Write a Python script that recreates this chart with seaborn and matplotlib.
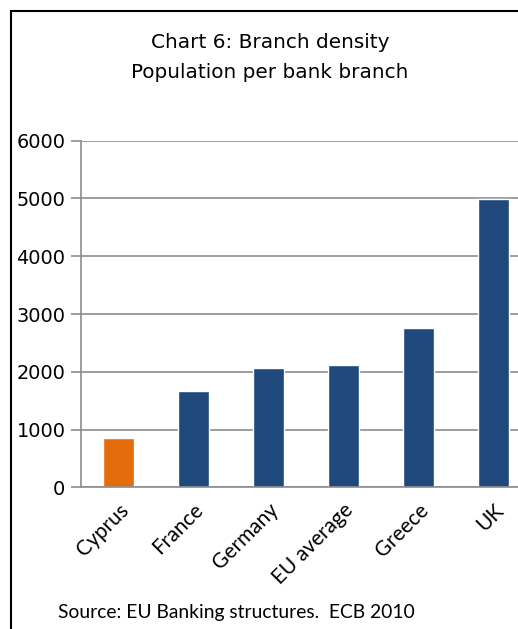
import matplotlib
matplotlib.use("Agg")
import matplotlib.pyplot as plt
import seaborn as sns
import pandas as pd
from matplotlib.patches import Rectangle

# data
countries = ["Cyprus", "France", "Germany", "EU average", "Greece", "UK"]
population_per_branch = [850, 1670, 2060, 2120, 2760, 4990]
bar_colors = ["#E46C0A", "#1F497D", "#1F497D", "#1F497D", "#1F497D", "#1F497D"]
y_ticks = [0, 1000, 2000, 3000, 4000, 5000, 6000]

df = pd.DataFrame({"country": countries, "pop": population_per_branch})

sns.set_style("white")
plt.rcParams["font.family"] = ["DejaVu Sans"]
plt.rcParams["text.color"] = "black"
plt.rcParams["xtick.color"] = "black"
plt.rcParams["ytick.color"] = "black"

fig = plt.figure(figsize=(5.18, 6.29), dpi=100)
ax = fig.add_axes([80.7 / 518, 1 - 487.3 / 629, 450 / 518, 346.6 / 629])

sns.barplot(data=df, x="country", y="pop", hue="country", palette=bar_colors,
            width=0.41, legend=False, saturation=1, ax=ax)

grid_col = "#8c8c8c"
ax.set_xlim(-0.5, 5.5)
ax.set_ylim(0, 6000)
ax.set_yticks(y_ticks)
ax.set_yticklabels([str(t) for t in y_ticks], fontsize=13.9, color="black")
ax.yaxis.grid(True, color=grid_col, linewidth=1.2)
ax.set_axisbelow(True)

ax.set_xticks(range(len(countries)))
ax.set_xticklabels(countries, rotation=45, ha="right", rotation_mode="anchor",
                   fontsize=15, family="Lato", color="black")
ax.set_xticks([i - 0.5 for i in range(len(countries) + 1)], minor=True)
ax.tick_params(axis="x", which="major", length=0, pad=9)
ax.tick_params(axis="x", which="minor", length=7, width=1.2, color=grid_col, direction="out")
ax.tick_params(axis="y", length=7, width=1.2, color=grid_col, labelcolor="black",
               direction="out", left=True, pad=4)
ax.set_xlabel("")
ax.set_ylabel("")

for side in ["top", "right"]:
    ax.spines[side].set_visible(False)
for side in ["left", "bottom"]:
    ax.spines[side].set_color(grid_col)
    ax.spines[side].set_linewidth(1.2)

fig.text(270 / 518, 1 - 43 / 629, "Chart 6: Branch density", ha="center", va="center",
         fontsize=14.4, color="black")
fig.text(270 / 518, 1 - 72 / 629, "Population per bank branch", ha="center", va="center",
         fontsize=14.4, color="black")
fig.text(58 / 518, 1 - 612.7 / 629, "Source: EU Banking structures.  ECB 2010",
         ha="left", va="center", fontsize=13.9, family="Lato", color="black")

# outer chart border (cropped at right and bottom)
fig.patches.append(Rectangle((11 / 518, -0.1), 1.2, 1 - 11 / 629 + 0.1,
                             transform=fig.transFigure, fill=False,
                             edgecolor="black", linewidth=1.5))

fig.savefig("out.png", dpi=100)
